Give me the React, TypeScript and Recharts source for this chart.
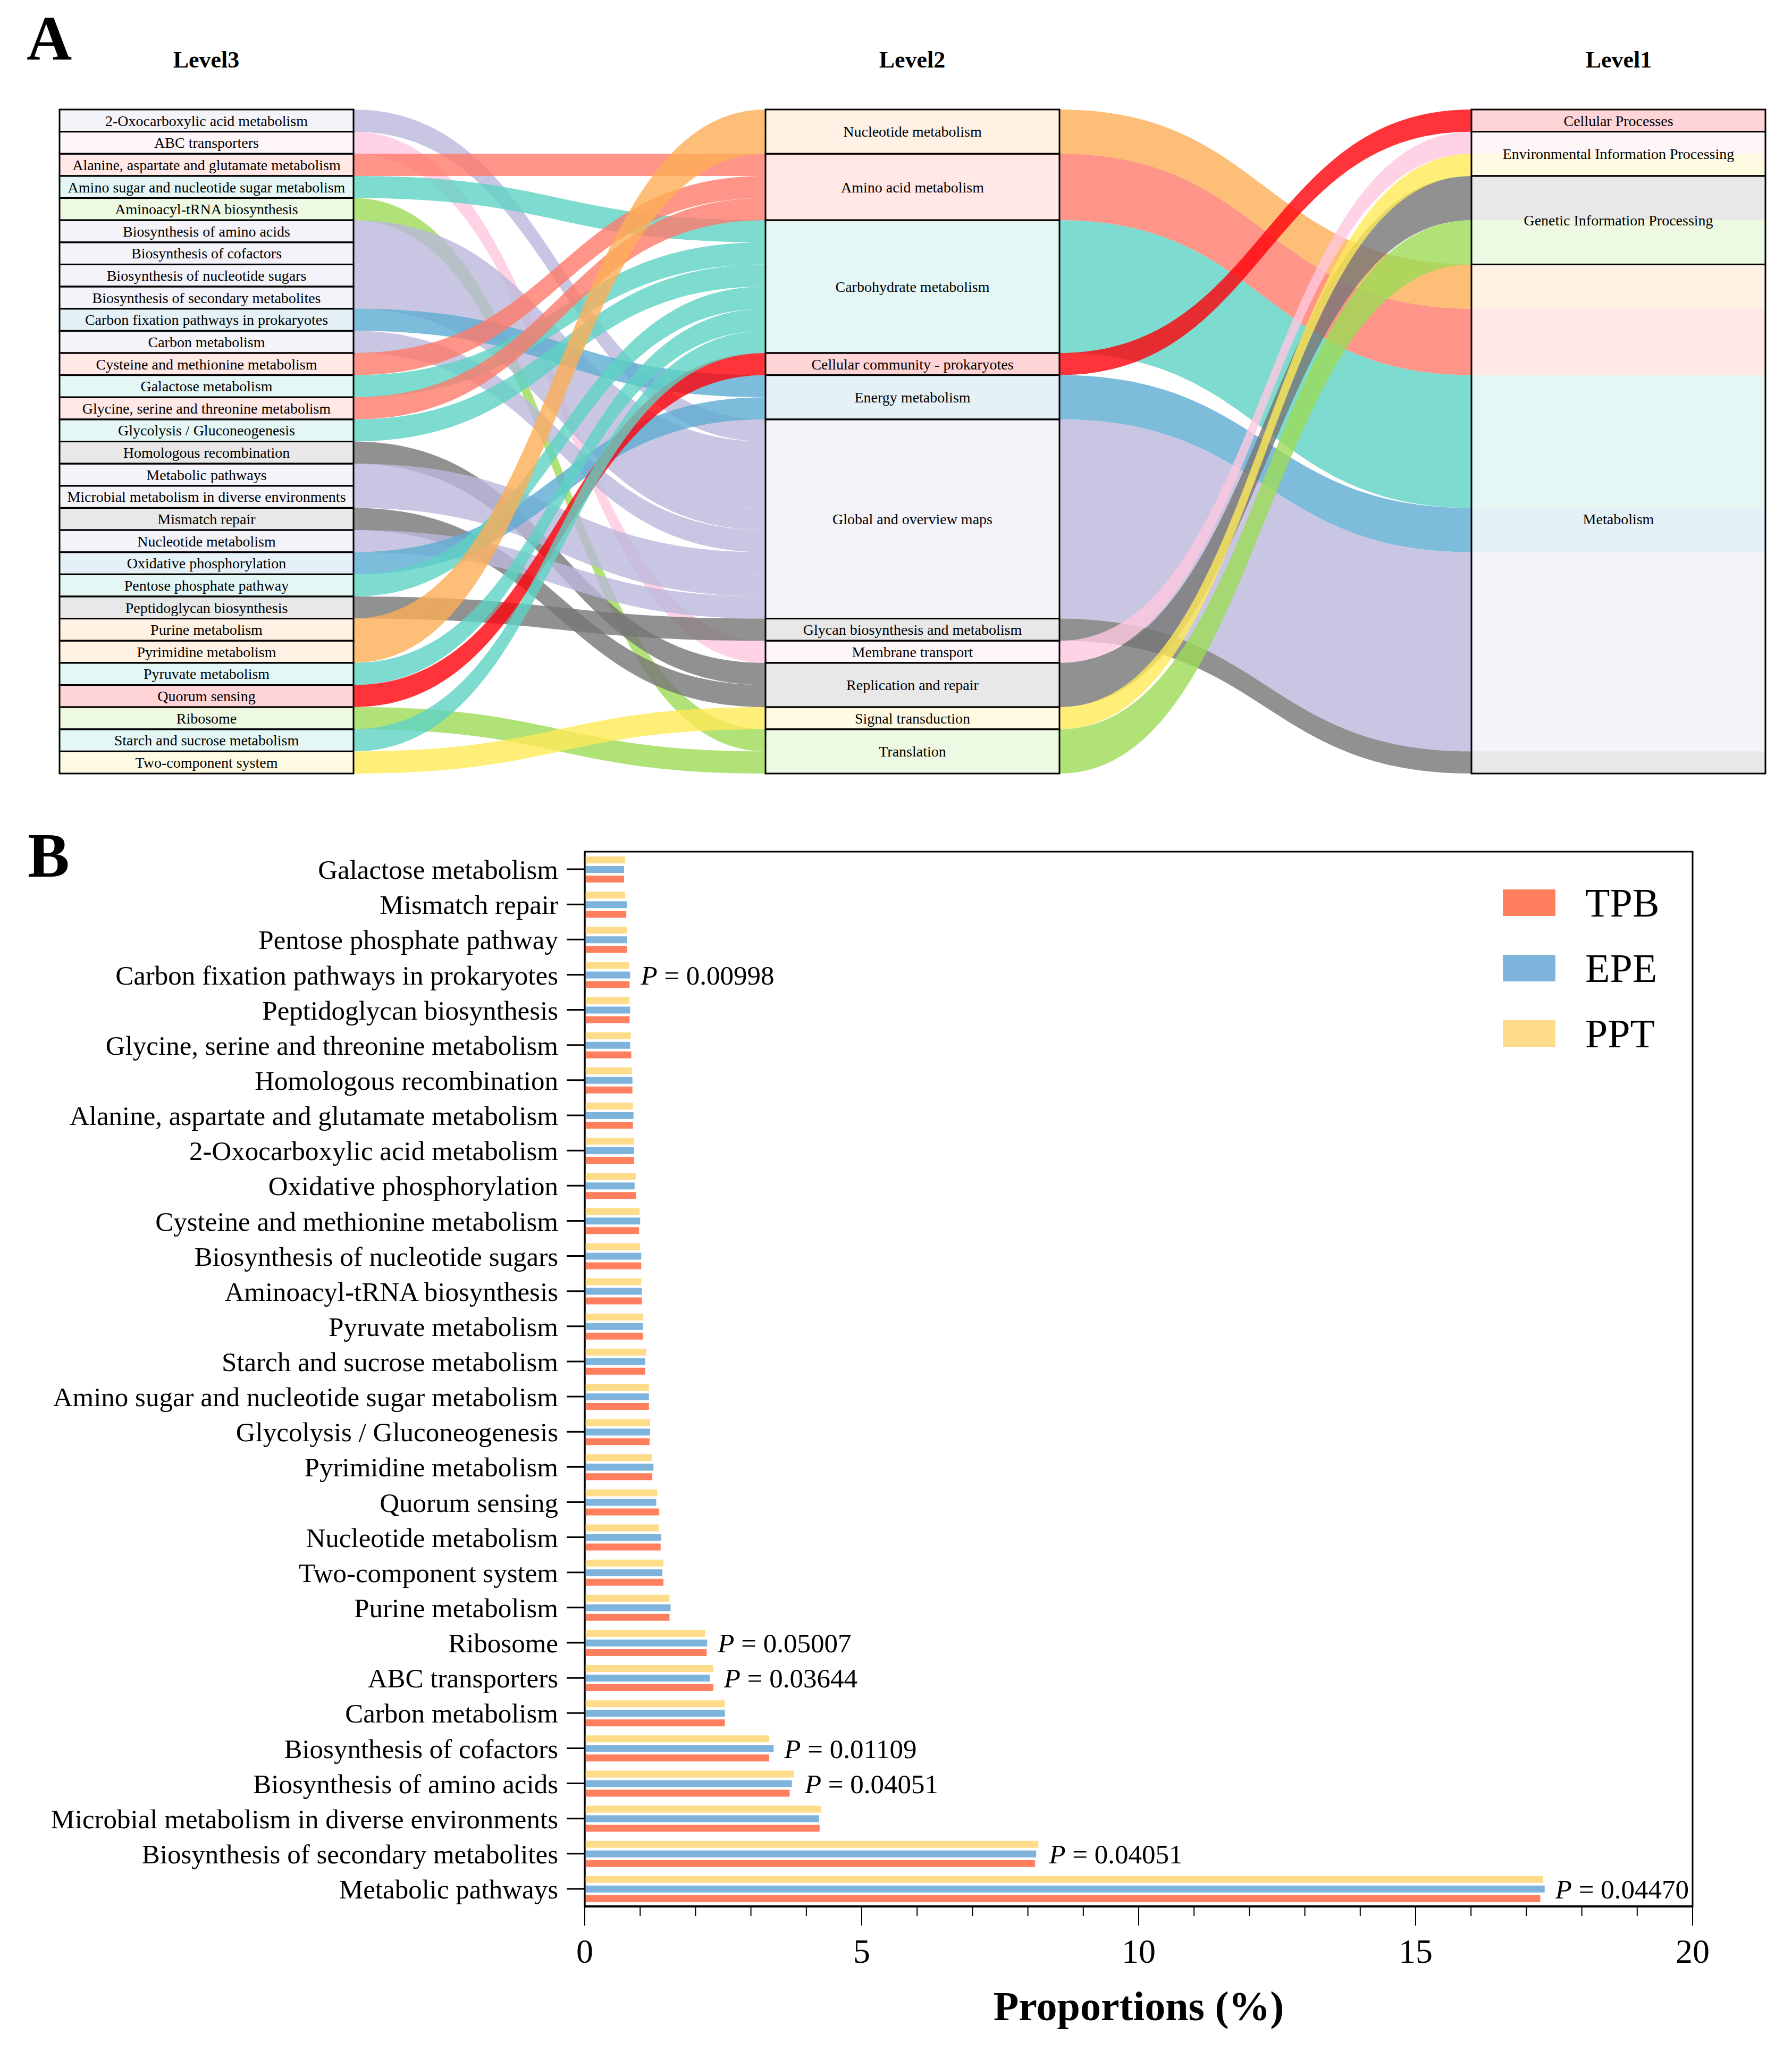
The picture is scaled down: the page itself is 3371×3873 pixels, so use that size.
import React from 'react'
import { Sankey, BarChart, Bar, XAxis, YAxis, ReferenceArea, LabelList, Legend } from 'recharts'

const FONT = '"Liberation Serif", "Times New Roman", serif'

// ---------- panel A: KEGG hierarchy ----------
const LEVEL1 = [
  'Cellular Processes',
  'Environmental Information Processing',
  'Genetic Information Processing',
  'Metabolism',
]

const LEVEL2 = [
  'Nucleotide metabolism',
  'Amino acid metabolism',
  'Carbohydrate metabolism',
  'Cellular community - prokaryotes',
  'Energy metabolism',
  'Global and overview maps',
  'Glycan biosynthesis and metabolism',
  'Membrane transport',
  'Replication and repair',
  'Signal transduction',
  'Translation',
]

const LEVEL2_PARENT = [
  'Metabolism',
  'Metabolism',
  'Metabolism',
  'Cellular Processes',
  'Metabolism',
  'Metabolism',
  'Metabolism',
  'Environmental Information Processing',
  'Genetic Information Processing',
  'Environmental Information Processing',
  'Genetic Information Processing',
]

const LEVEL2_COLORS = [
  '#FDAE56',
  '#FF796A',
  '#5ED2C4',
  '#FF0109',
  '#5EABD2',
  '#BAB8DB',
  '#767676',
  '#FFC7E0',
  '#767676',
  '#FFEA56',
  '#9CDB56',
]

const LEVEL3 = [
  '2-Oxocarboxylic acid metabolism',
  'ABC transporters',
  'Alanine, aspartate and glutamate metabolism',
  'Amino sugar and nucleotide sugar metabolism',
  'Aminoacyl-tRNA biosynthesis',
  'Biosynthesis of amino acids',
  'Biosynthesis of cofactors',
  'Biosynthesis of nucleotide sugars',
  'Biosynthesis of secondary metabolites',
  'Carbon fixation pathways in prokaryotes',
  'Carbon metabolism',
  'Cysteine and methionine metabolism',
  'Galactose metabolism',
  'Glycine, serine and threonine metabolism',
  'Glycolysis / Gluconeogenesis',
  'Homologous recombination',
  'Metabolic pathways',
  'Microbial metabolism in diverse environments',
  'Mismatch repair',
  'Nucleotide metabolism',
  'Oxidative phosphorylation',
  'Pentose phosphate pathway',
  'Peptidoglycan biosynthesis',
  'Purine metabolism',
  'Pyrimidine metabolism',
  'Pyruvate metabolism',
  'Quorum sensing',
  'Ribosome',
  'Starch and sucrose metabolism',
  'Two-component system',
]

const LEVEL3_PARENT = [
  'Global and overview maps',
  'Membrane transport',
  'Amino acid metabolism',
  'Carbohydrate metabolism',
  'Translation',
  'Global and overview maps',
  'Global and overview maps',
  'Global and overview maps',
  'Global and overview maps',
  'Energy metabolism',
  'Global and overview maps',
  'Amino acid metabolism',
  'Carbohydrate metabolism',
  'Amino acid metabolism',
  'Carbohydrate metabolism',
  'Replication and repair',
  'Global and overview maps',
  'Global and overview maps',
  'Replication and repair',
  'Global and overview maps',
  'Energy metabolism',
  'Carbohydrate metabolism',
  'Glycan biosynthesis and metabolism',
  'Nucleotide metabolism',
  'Nucleotide metabolism',
  'Carbohydrate metabolism',
  'Cellular community - prokaryotes',
  'Translation',
  'Carbohydrate metabolism',
  'Signal transduction',
]

const N3 = LEVEL3.length
const N2 = LEVEL2.length

const level2Count = (name: string) => LEVEL3_PARENT.filter((p) => p === name).length
const colorOf2 = (name: string) => LEVEL2_COLORS[LEVEL2.indexOf(name)]

const sankeyNodes = [...LEVEL3, ...LEVEL2, ...LEVEL1].map((name) => ({ name }))
const sankeyLinks = [
  ...LEVEL3.map((name, i) => ({
    source: i,
    target: N3 + LEVEL2.indexOf(LEVEL3_PARENT[i]),
    value: 1,
  })),
  ...LEVEL2.map((name, j) => ({
    source: N3 + j,
    target: N3 + N2 + LEVEL1.indexOf(LEVEL2_PARENT[j]),
    value: level2Count(name),
  })),
]
const linkColor = (k: number) =>
  k < N3 ? colorOf2(LEVEL3_PARENT[k]) : LEVEL2_COLORS[k - N3]

const TINT = 0.17

function SankeyNode(props: any) {
  const { x, y, width, height, index } = props
  const name = sankeyNodes[index].name
  let fills: { y: number; h: number; color: string }[] = []
  if (index < N3) {
    fills = [{ y, h: height, color: colorOf2(LEVEL3_PARENT[index]) }]
  } else if (index < N3 + N2) {
    fills = [{ y, h: height, color: LEVEL2_COLORS[index - N3] }]
  } else {
    // level1 boxes are tinted band by band after the level2 groups that flow in
    const children = LEVEL2.filter((n, j) => LEVEL2_PARENT[j] === name)
    const total = children.reduce((s, c) => s + level2Count(c), 0)
    let cy = y
    fills = children.map((c) => {
      const h = (height * level2Count(c)) / total
      const f = { y: cy, h, color: colorOf2(c) }
      cy += h
      return f
    })
  }
  return (
    <g>
      {fills.map((f, i) => (
        <rect key={i} x={x} y={f.y} width={width} height={f.h} fill={f.color} fillOpacity={TINT} />
      ))}
      <rect x={x} y={y} width={width} height={height} fill="none" stroke="#000" strokeWidth={3} />
      <text
        x={x + width / 2}
        y={y + height / 2}
        dy="0.35em"
        textAnchor="middle"
        fontFamily={FONT}
        fontSize={28}
        fill="#000"
      >
        {name}
      </text>
    </g>
  )
}

function SankeyLink(props: any) {
  const { sourceX, targetX, sourceY, targetY, sourceControlX, targetControlX, linkWidth, index } = props
  const h = linkWidth / 2
  const d =
    `M${sourceX},${sourceY - h} ` +
    `C${sourceControlX},${sourceY - h} ${targetControlX},${targetY - h} ${targetX},${targetY - h} ` +
    `L${targetX},${targetY + h} ` +
    `C${targetControlX},${targetY + h} ${sourceControlX},${sourceY + h} ${sourceX},${sourceY + h} Z`
  return <path d={d} fill={linkColor(index)} fillOpacity={0.8} stroke="none" />
}

// ---------- panel B: proportions ----------
const PATHWAYS = [
  'Galactose metabolism',
  'Mismatch repair',
  'Pentose phosphate pathway',
  'Carbon fixation pathways in prokaryotes',
  'Peptidoglycan biosynthesis',
  'Glycine, serine and threonine metabolism',
  'Homologous recombination',
  'Alanine, aspartate and glutamate metabolism',
  '2-Oxocarboxylic acid metabolism',
  'Oxidative phosphorylation',
  'Cysteine and methionine metabolism',
  'Biosynthesis of nucleotide sugars',
  'Aminoacyl-tRNA biosynthesis',
  'Pyruvate metabolism',
  'Starch and sucrose metabolism',
  'Amino sugar and nucleotide sugar metabolism',
  'Glycolysis / Gluconeogenesis',
  'Pyrimidine metabolism',
  'Quorum sensing',
  'Nucleotide metabolism',
  'Two-component system',
  'Purine metabolism',
  'Ribosome',
  'ABC transporters',
  'Carbon metabolism',
  'Biosynthesis of cofactors',
  'Biosynthesis of amino acids',
  'Microbial metabolism in diverse environments',
  'Biosynthesis of secondary metabolites',
  'Metabolic pathways',
]

const PPT = [
  0.73, 0.73, 0.76, 0.8, 0.81, 0.83, 0.85, 0.87, 0.89, 0.92, 0.99, 1.0, 1.02, 1.05, 1.11,
  1.16, 1.18, 1.21, 1.31, 1.34, 1.42, 1.53, 2.17, 2.32, 2.53, 3.33, 3.78, 4.27, 8.19, 17.3,
]
const EPE = [
  0.71, 0.76, 0.76, 0.82, 0.82, 0.82, 0.86, 0.88, 0.89, 0.9, 1.0, 1.02, 1.03, 1.05, 1.09,
  1.16, 1.18, 1.24, 1.29, 1.38, 1.4, 1.55, 2.21, 2.26, 2.53, 3.41, 3.74, 4.23, 8.15, 17.33,
]
const TPB = [
  0.71, 0.75, 0.76, 0.81, 0.81, 0.84, 0.86, 0.87, 0.89, 0.93, 0.98, 1.02, 1.03, 1.05, 1.09,
  1.16, 1.17, 1.22, 1.34, 1.37, 1.42, 1.53, 2.2, 2.32, 2.53, 3.33, 3.7, 4.24, 8.13, 17.25,
]
const P_VALUES: (string | null)[] = [
  null, null, null, '0.00998', null, null, null, null, null, null, null, null, null, null, null,
  null, null, null, null, null, null, null, '0.05007', '0.03644', null, '0.01109', '0.04051', null,
  '0.04051', '0.04470',
]

const X_TICKS = [0, 1, 2, 3, 4, 5, 6, 7, 8, 9, 10, 11, 12, 13, 14, 15, 16, 17, 18, 19, 20]
const X_LABELED = [0, 5, 10, 15, 20]

const GROUPS = [
  { key: 'tpb', name: 'TPB', color: '#FF7F5E' },
  { key: 'epe', name: 'EPE', color: '#7EB4DC' },
  { key: 'ppt', name: 'PPT', color: '#FFDC8A' },
]

const barRows = PATHWAYS.map((name, i) => ({
  name,
  ppt: PPT[i],
  epe: EPE[i],
  tpb: TPB[i],
  p: P_VALUES[i],
}))

function XTick(props: any) {
  const { x, y, payload } = props
  const major = X_LABELED.includes(payload.value)
  return (
    <g>
      <line x1={x} x2={x} y1={y} y2={y + (major ? 36 : 18)} stroke="#000" strokeWidth={2} />
      {major && (
        <text x={x} y={y + 106} textAnchor="middle" fontFamily={FONT} fontSize={64} fill="#000">
          {payload.value}
        </text>
      )}
    </g>
  )
}

function XTitle(props: any) {
  const { x, y, width } = props.viewBox
  return (
    <text
      x={x + width / 2}
      y={y + 214}
      textAnchor="middle"
      fontFamily={FONT}
      fontSize={78}
      fontWeight="bold"
      fill="#000"
    >
      Proportions (%)
    </text>
  )
}

function PLabel(props: any) {
  const { x, y, width, height, value, index } = props
  if (!value) return null
  const perUnit = width / EPE[index]
  const rowMax = Math.max(PPT[index], EPE[index], TPB[index])
  return (
    <text
      x={x + rowMax * perUnit + 20}
      y={y + height / 2}
      dy="0.35em"
      fontFamily={FONT}
      fontSize={51}
      fill="#000"
    >
      <tspan fontStyle="italic">P</tspan>
      {` = ${value}`}
    </text>
  )
}

function GroupLegend() {
  return (
    <div style={{ fontFamily: FONT }}>
      {GROUPS.map((g) => (
        <div key={g.key} style={{ display: 'flex', alignItems: 'center', height: 123 }}>
          <div style={{ width: 99, height: 50, background: g.color }} />
          <span style={{ marginLeft: 56, fontSize: 76, color: '#000', lineHeight: 1 }}>{g.name}</span>
        </div>
      ))}
    </div>
  )
}

export default function App() {
  return (
    <div
      style={{
        position: 'absolute',
        left: 0,
        top: 0,
        width: 3371,
        height: 3873,
        background: '#fff',
        fontFamily: FONT,
        overflow: 'hidden',
      }}
    >
      <div style={{ position: 'absolute', left: 0, top: 0 }}>
        <Sankey
          width={3371}
          height={1500}
          data={{ nodes: sankeyNodes, links: sankeyLinks }}
          nodeWidth={553}
          nodePadding={0}
          iterations={0}
          sort={false}
          linkCurvature={0.5}
          margin={{ top: 206, left: 112, right: 50, bottom: 45 }}
          node={(p: any) => <SankeyNode {...p} />}
          link={(p: any) => <SankeyLink {...p} />}
        />
      </div>

      <div style={{ position: 'absolute', left: 0, top: 1500 }}>
        <BarChart
          width={3371}
          height={2373}
          data={barRows}
          layout="vertical"
          margin={{ top: 102, right: 187, bottom: 87, left: 0 }}
          barSize={13}
          barGap={5}
        >
          <XAxis
            type="number"
            domain={[0, 20]}
            ticks={X_TICKS}
            interval={0}
            tickLine={false}
            tickSize={0}
            tickMargin={0}
            height={200}
            axisLine={{ stroke: '#000', strokeWidth: 4 }}
            tick={(p: any) => <XTick {...p} />}
            label={(p: any) => <XTitle {...p} />}
          />
          <YAxis
            type="category"
            dataKey="name"
            width={1100}
            interval={0}
            tickSize={34}
            tickMargin={16}
            tickLine={{ stroke: '#000', strokeWidth: 3 }}
            axisLine={{ stroke: '#000', strokeWidth: 3 }}
            tick={{ fontSize: 51, fill: '#000', fontFamily: FONT }}
          />
          <ReferenceArea x1={0} x2={20} fill="none" stroke="#000" strokeWidth={3} ifOverflow="visible" />
          <Bar dataKey="ppt" name="PPT" fill="#FFDC8A" isAnimationActive={false} />
          <Bar dataKey="epe" name="EPE" fill="#7EB4DC" isAnimationActive={false}>
            <LabelList dataKey="p" content={(p: any) => <PLabel {...p} />} />
          </Bar>
          <Bar dataKey="tpb" name="TPB" fill="#FF7F5E" isAnimationActive={false} />
          <Legend
            layout="horizontal"
            align="center"
            verticalAlign="middle"
            content={() => <GroupLegend />}
            wrapperStyle={{ position: 'absolute', left: 2827, top: 136, width: 400 }}
          />
        </BarChart>
      </div>

      <svg
        width={3371}
        height={3873}
        style={{ position: 'absolute', left: 0, top: 0, pointerEvents: 'none' }}
      >
        <text x={50} y={112} fontFamily={FONT} fontSize={118} fontWeight="bold">A</text>
        <text x={52} y={1649} fontFamily={FONT} fontSize={118} fontWeight="bold">B</text>
        <text x={388} y={127} textAnchor="middle" fontFamily={FONT} fontSize={44} fontWeight="bold">Level3</text>
        <text x={1716} y={127} textAnchor="middle" fontFamily={FONT} fontSize={44} fontWeight="bold">Level2</text>
        <text x={3045} y={127} textAnchor="middle" fontFamily={FONT} fontSize={44} fontWeight="bold">Level1</text>
      </svg>
    </div>
  )
}
